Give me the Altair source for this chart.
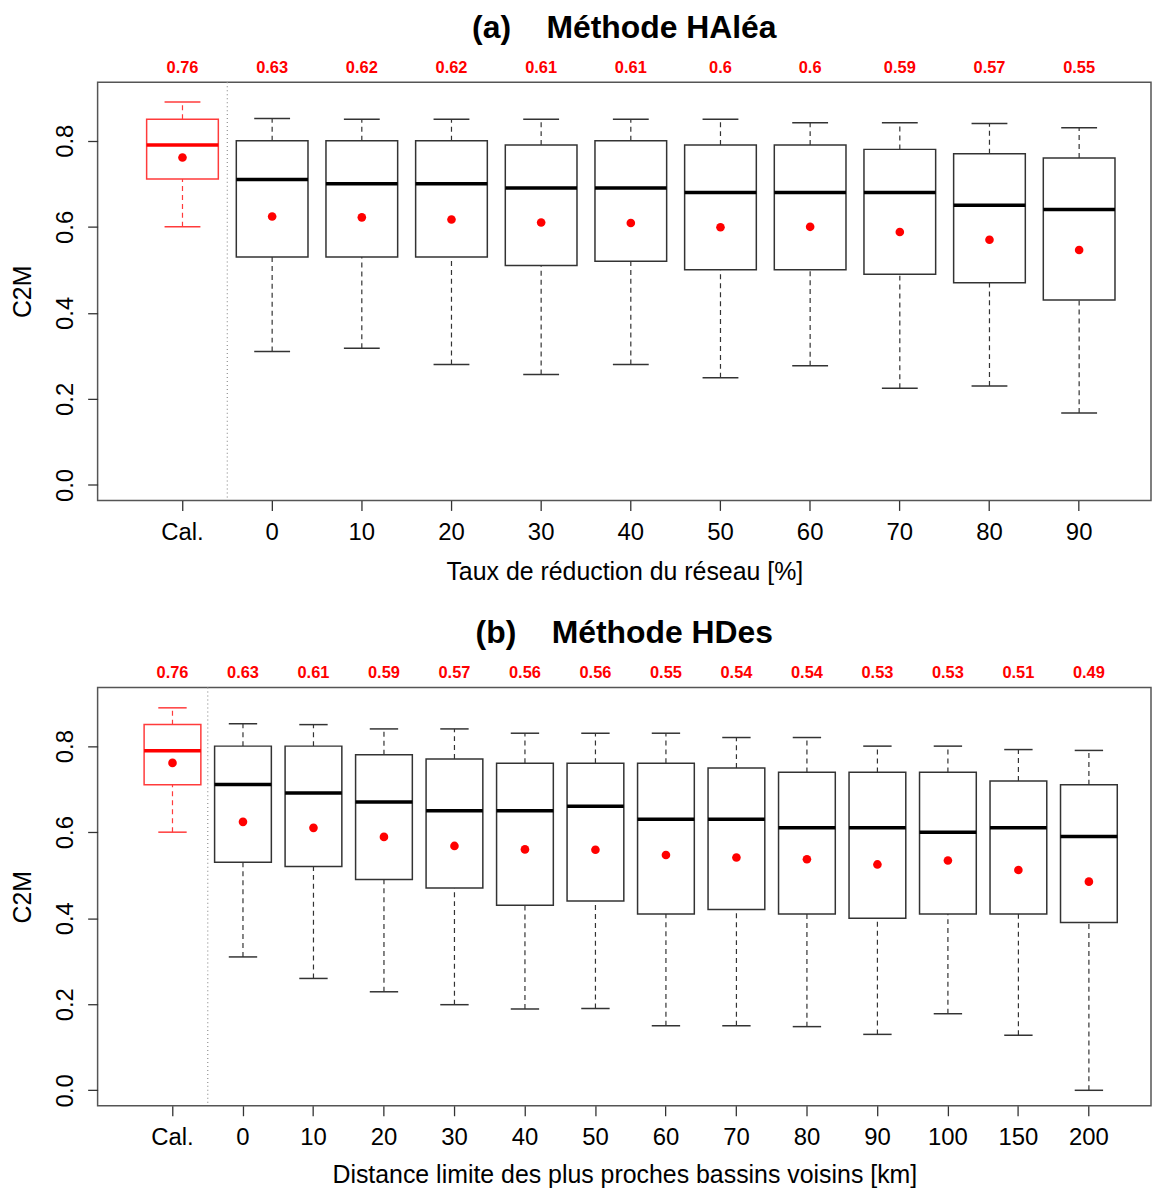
import altair as alt
import pandas as pd

FONT = "Liberation Sans"

# ---------- Panel (a) : Méthode HAléa ----------
cats_a = ["Cal.", "0", "10", "20", "30", "40", "50", "60", "70", "80", "90"]
lo_a = [0.600, 0.310, 0.318, 0.280, 0.257, 0.280, 0.249, 0.277, 0.225, 0.230, 0.167]
q1_a = [0.711, 0.530, 0.530, 0.530, 0.510, 0.520, 0.500, 0.500, 0.490, 0.470, 0.430]
med_a = [0.790, 0.710, 0.700, 0.700, 0.690, 0.690, 0.680, 0.680, 0.680, 0.650, 0.640]
q3_a = [0.850, 0.800, 0.800, 0.800, 0.790, 0.800, 0.790, 0.790, 0.780, 0.770, 0.760]
hi_a = [0.890, 0.852, 0.850, 0.850, 0.850, 0.850, 0.850, 0.842, 0.842, 0.840, 0.830]
mean_a = [0.761, 0.624, 0.622, 0.617, 0.610, 0.609, 0.599, 0.600, 0.588, 0.570, 0.546]
lab_a = ["0.76", "0.63", "0.62", "0.62", "0.61", "0.61", "0.6", "0.6", "0.59", "0.57", "0.55"]

# ---------- Panel (b) : Méthode HDes ----------
cats_b = ["Cal.", "0", "10", "20", "30", "40", "50", "60", "70", "80", "90", "100", "150", "200"]
lo_b = [0.600, 0.310, 0.260, 0.229, 0.199, 0.189, 0.190, 0.150, 0.150, 0.148, 0.130, 0.178, 0.128, 0.000]
q1_b = [0.710, 0.530, 0.520, 0.490, 0.470, 0.430, 0.440, 0.410, 0.420, 0.410, 0.400, 0.410, 0.410, 0.390]
med_b = [0.789, 0.711, 0.691, 0.670, 0.650, 0.650, 0.660, 0.630, 0.630, 0.610, 0.610, 0.600, 0.610, 0.590]
q3_b = [0.850, 0.800, 0.800, 0.780, 0.770, 0.760, 0.760, 0.760, 0.749, 0.739, 0.739, 0.739, 0.719, 0.710]
hi_b = [0.889, 0.852, 0.850, 0.840, 0.840, 0.830, 0.830, 0.830, 0.820, 0.820, 0.800, 0.800, 0.792, 0.790]
mean_b = [0.761, 0.624, 0.610, 0.589, 0.568, 0.560, 0.559, 0.547, 0.541, 0.537, 0.525, 0.534, 0.512, 0.485]
lab_b = ["0.76", "0.63", "0.61", "0.59", "0.57", "0.56", "0.56", "0.55", "0.54", "0.54", "0.53", "0.53", "0.51", "0.49"]

Y_DOMAIN = [-0.036, 0.936]
Y_TICKS = [0.0, 0.2, 0.4, 0.6, 0.8]
W, H = 1058, 420
RED = "#ff0000"
CAL_RED = "#ff3b3b"
DARK = "#333333"
GAP = "\u00a0\u00a0\u00a0\u00a0"


def panel(cats, lo, q1, med, q3, hi, mean, labs, title, xtitle, box_w, pad_outer, align, xt_pad):
    df = pd.DataFrame(dict(cat=cats, lo=lo, q1=q1, med=med, q3=q3, hi=hi, mean=mean, lab=labs))
    df["col"] = [CAL_RED if c == "Cal." else DARK for c in cats]
    df["mcol"] = [RED if c == "Cal." else "#000000" for c in cats]
    base = alt.Chart(df)

    xs = alt.Scale(type="band", domain=cats, paddingInner=0, paddingOuter=pad_outer, align=align)
    xaxis = alt.Axis(labelFontSize=24, labelFont=FONT, labelColor="black", labelAngle=0,
                     labelPadding=10, tickSize=10, tickColor="#333333", tickWidth=1.3,
                     domain=False, grid=False, titleFont=FONT, titleFontSize=25,
                     titleFontWeight="normal", titleColor="black", titlePadding=xt_pad)
    ys = alt.Scale(domain=Y_DOMAIN, nice=False, zero=False)
    yaxis = alt.Axis(values=Y_TICKS, format=".1f", labelAngle=270, labelAlign="center",
                     labelBaseline="bottom", labelFontSize=24, labelFont=FONT,
                     labelColor="black", labelPadding=10, tickSize=10, tickColor="#333333",
                     tickWidth=1.3, domain=False, grid=False, titleFont=FONT, titleFontSize=25,
                     titleFontWeight="normal", titleColor="black", titlePadding=18)

    def X():
        return alt.X("cat:N", sort=cats, scale=xs, axis=xaxis, title=xtitle)

    def Y(field):
        return alt.Y(f"{field}:Q", scale=ys, axis=yaxis, title="C2M")

    col = alt.Color("col:N", scale=None)

    sep = alt.Chart(pd.DataFrame({"cat": ["0"]})).mark_rule(
        color="#999999", strokeDash=[1, 3], strokeWidth=1.3
    ).encode(
        x=alt.X("cat:N", sort=cats, scale=xs, axis=xaxis, title=xtitle, bandPosition=0),
        y=alt.value(0), y2=alt.value(H),
    )

    whisk_lo = base.mark_rule(strokeDash=[5, 4], strokeWidth=1.2).encode(
        x=X(), y=Y("lo"), y2="q1", color=col)
    whisk_hi = base.mark_rule(strokeDash=[5, 4], strokeWidth=1.2).encode(
        x=X(), y=Y("q3"), y2="hi", color=col)
    cap_lo = base.mark_tick(size=box_w / 2, thickness=1.5, opacity=1).encode(
        x=X(), y=Y("lo"), color=col)
    cap_hi = base.mark_tick(size=box_w / 2, thickness=1.5, opacity=1).encode(
        x=X(), y=Y("hi"), color=col)
    box = base.mark_bar(size=box_w, fill="white", strokeWidth=1.5, opacity=1).encode(
        x=X(), y=Y("q1"), y2="q3", stroke=alt.Stroke("col:N", scale=None))
    median = base.mark_tick(size=box_w, thickness=3.5, opacity=1).encode(
        x=X(), y=Y("med"), color=alt.Color("mcol:N", scale=None))
    mean_pt = base.mark_circle(size=75, color=RED, opacity=1).encode(x=X(), y=Y("mean"))
    labels = base.mark_text(color=RED, fontSize=16.5, fontWeight="bold", font=FONT,
                            baseline="middle").encode(
        x=X(), y=alt.value(-14.5), text="lab:N")

    return alt.layer(sep, whisk_lo, whisk_hi, cap_lo, cap_hi, box, median, mean_pt, labels).properties(
        width=W, height=H,
        view=alt.ViewBackground(stroke="#555555", strokeWidth=1.5, fill="white"),
        title=alt.TitleParams(text=title, fontSize=32, fontWeight="bold", font=FONT,
                              anchor="middle", color="black", offset=15),
    )


pa = panel(cats_a, lo_a, q1_a, med_a, q3_a, hi_a, mean_a, lab_a,
           "(a)" + GAP + "Méthode HAléa", "Taux de réduction du réseau [%]",
           72, 0.374, 0.597, 15)
pb = panel(cats_b, lo_b, q1_b, med_b, q3_b, hi_b, mean_b, lab_b,
           "(b)" + GAP + "Méthode HDes", "Distance limite des plus proches bassins voisins [km]",
           57, 0.4716, 0.596, 13)

chart = alt.vconcat(pa, pb, spacing=31).properties(
    padding={"left": 2, "top": 0, "right": 0, "bottom": 0}
).configure(background="white")

chart.save("out.html", embed_options={"renderer": "svg", "actions": False})
